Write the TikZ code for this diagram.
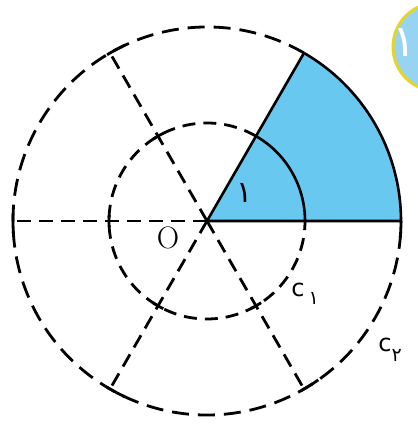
\documentclass[tikz,border=0pt]{standalone}
\usepackage{fontspec}
\newfontfamily\pfont[Script=Arabic]{DejaVu Sans}
\newfontfamily\labfont{DejaVu Sans}
\definecolor{sectorblue}{RGB}{104,200,240}
\definecolor{badgeblue}{RGB}{150,212,242}
\definecolor{badgering}{RGB}{230,212,40}
\begin{document}
\begin{tikzpicture}[x=1pt,y=1pt,line width=2.8pt,
  dashline/.style={dash pattern=on 17pt off 9pt},
  solidline/.style={line width=2.6pt},
  tick/.style={line width=2.8pt},
  lab/.style={inner sep=0pt,anchor=base west,font=\labfont\fontsize{24}{24}\selectfont}]
\useasboundingbox (0,0) rectangle (418,424);
\clip (0,0) rectangle (418,424);
\coordinate (O) at (207,203);
% sector
\fill[sectorblue] (O) -- ++(0:194) arc[start angle=0,end angle=60,radius=194] -- cycle;
% dashed circles (outside the sector)
\draw[dashline] (O) ++(60:194) arc[start angle=60,end angle=360,radius=194];
\draw[dashline,dash pattern=on 13pt off 8pt] (O) ++(60:98) arc[start angle=60,end angle=360,radius=98];
% dashed radii
\foreach \a in {120,180,240,300}{
  \draw[dashline,dash pattern=on 14pt off 8pt] (O) -- ++(\a:194);
}
% solid sector edges
\draw[solidline,line join=miter] (O) ++(0:194) -- (O) -- ++(60:194);
\draw[solidline] (O) ++(0:194) arc[start angle=0,end angle=60,radius=194];
\draw[solidline] (O) ++(0:98) arc[start angle=0,end angle=60,radius=98];
% outer ticks
\draw[tick] (O) ++(115:194) arc[start angle=115,end angle=121,radius=194];
\draw[tick] (O) ++(178:194) arc[start angle=178,end angle=184,radius=194];
\draw[tick] (O) ++(239:194) arc[start angle=239,end angle=245,radius=194];
\draw[tick] (O) ++(299:194) arc[start angle=299,end angle=305,radius=194];
\draw[tick] (O) ++(-5:194) arc[start angle=-5,end angle=0,radius=194];
% inner ticks
\foreach \a in {120,180,240,300}{
  \draw[tick] (O) ++(\a-3.5:98) arc[start angle=\a-3.5,end angle=\a+3.5,radius=98];
}
% labels
\node[inner sep=0pt,font=\fontsize{31}{31}\selectfont] (Olab) at (168,186) {O};
\node[inner sep=0pt,font=\pfont\fontsize{30}{30}\selectfont] (ang) at (245,231) {۱};
\node[lab] (c1) at (290,128) {c\hspace{4pt}{\pfont\fontsize{19}{19}\selectfont\raisebox{-9pt}{۱}}};
\node[lab] (c2) at (377,72) {c{\pfont\fontsize{19}{19}\selectfont\raisebox{-10pt}{۲}}};
% badge
\draw[fill=badgeblue,draw=badgering,line width=3pt] (437,377) circle[radius=44];
\node[inner sep=0pt,text=white,font=\pfont\fontsize{44}{44}\selectfont] (badge) at (404,381) {۱};
\end{tikzpicture}
\end{document}
